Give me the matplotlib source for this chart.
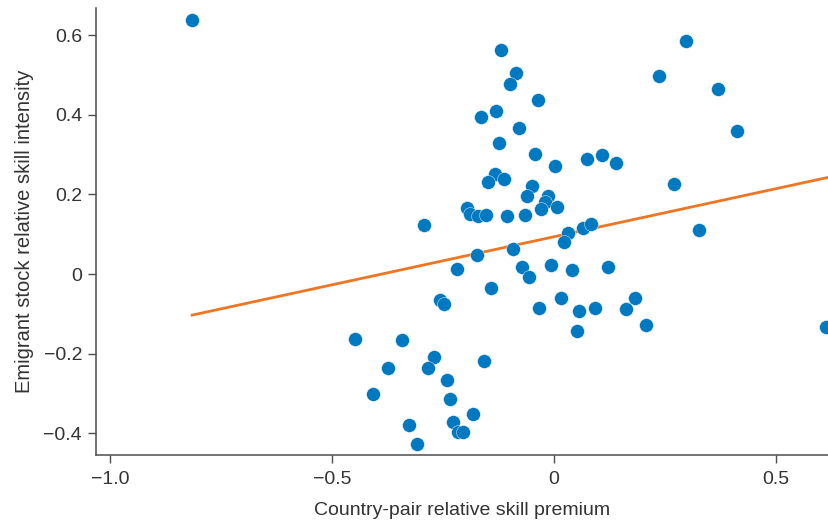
import numpy as np
import matplotlib
matplotlib.use('Agg')
from matplotlib import pyplot as plt

# values
skill_premium = [
    -0.815, -0.119, -0.086, -0.099, -0.037, -0.131, -0.164, -0.080, -0.125, -0.044,
    0.001, -0.134, -0.149, -0.112, -0.050, -0.061, -0.013, -0.020, -0.029, 0.007,
    -0.196, -0.189, -0.171, -0.153, -0.107, -0.066, -0.294, -0.174, -0.092, -0.219,
    -0.073, -0.056, -0.007, -0.142, -0.258, -0.249, -0.033, 0.016, -0.343, 0.073,
    0.107, 0.140, 0.031, 0.023, 0.066, 0.083, 0.040, 0.122, 0.057, 0.092,
    0.161, 0.182, 0.051, 0.208, 0.298, 0.236, 0.369, 0.412, 0.269, 0.327,
    0.612, -0.448, -0.270, -0.284, -0.375, -0.158, -0.242, -0.407, -0.234, -0.182,
    -0.227, -0.326, -0.216, -0.204, -0.308,
]
skill_intensity = [
    0.637, 0.562, 0.504, 0.476, 0.437, 0.409, 0.395, 0.367, 0.329, 0.302,
    0.271, 0.250, 0.232, 0.239, 0.220, 0.197, 0.196, 0.181, 0.164, 0.169,
    0.165, 0.150, 0.146, 0.147, 0.146, 0.147, 0.123, 0.049, 0.062, 0.013,
    0.017, -0.008, 0.023, -0.035, -0.064, -0.076, -0.085, -0.061, -0.166, 0.289,
    0.300, 0.280, 0.104, 0.081, 0.115, 0.125, 0.009, 0.018, -0.092, -0.086,
    -0.088, -0.061, -0.143, -0.129, 0.586, 0.497, 0.464, 0.359, 0.226, 0.110,
    -0.134, -0.164, -0.209, -0.237, -0.237, -0.219, -0.266, -0.301, -0.314, -0.351,
    -0.371, -0.379, -0.396, -0.396, -0.426,
]
fit_slope = 0.2414
fit_intercept = 0.0937

x_ticks = [-1.0, -0.5, 0, 0.5]
x_ticklabels = ['\u22121.0', '\u22120.5', '0', '0.5']
y_ticks = [-0.4, -0.2, 0, 0.2, 0.4, 0.6]
y_ticklabels = ['\u22120.4', '\u22120.2', '0', '0.2', '0.4', '0.6']

blue = '#0079C1'
orange = '#EE7623'
spine_col = '#4d4d4d'
text_col = '#333333'

plt.rcParams['font.family'] = ['Liberation Sans', 'DejaVu Sans']

fig = plt.figure(figsize=(8.29, 5.22), dpi=100)
ax = fig.add_axes([0.1158, 0.1289, 0.8842, 0.8551])

x = np.array(skill_premium)
y = np.array(skill_intensity)
ax.scatter(x, y, s=100, color=blue, edgecolors='white', linewidths=0.3, zorder=3)

line_x = np.array([x.min(), 0.62])
ax.plot(line_x, fit_intercept + fit_slope * line_x, color=orange, lw=2, zorder=2)

ax.set_xlim(-1.0315, 0.619)
ax.set_ylim(-0.4535, 0.667)

ax.set_xticks(x_ticks)
ax.set_xticklabels(x_ticklabels)
ax.set_yticks(y_ticks)
ax.set_yticklabels(y_ticklabels)

for side in ['top', 'right']:
    ax.spines[side].set_visible(False)
for side in ['left', 'bottom']:
    ax.spines[side].set_color(spine_col)
    ax.spines[side].set_linewidth(1.1)

ax.tick_params(axis='both', length=6, width=1.0, color=spine_col,
               labelsize=14, labelcolor=text_col)
ax.tick_params(axis='x', pad=6)
ax.tick_params(axis='y', pad=4)

ax.set_xlabel('Country-pair relative skill premium', fontsize=14, color=text_col,
              labelpad=10)
ax.set_ylabel('Emigrant stock relative skill intensity', fontsize=14.5, color=text_col,
              labelpad=7)

fig.savefig('out.png', dpi=100)
